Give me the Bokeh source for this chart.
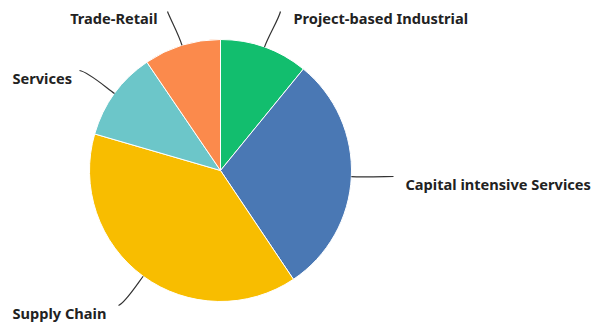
import math
from bokeh.plotting import figure
from bokeh.models import ColumnDataSource
from bokeh.core.properties import value
from bokeh.embed import file_html
from bokeh.resources import INLINE

# ---- data ----
categories = ["Project-based Industrial", "Capital intensive Services", "Supply Chain", "Services", "Trade-Retail"]
shares = [10.9, 29.7, 38.9, 11.0, 9.5]
colors = ["#12BE6E", "#4A78B4", "#F8BD00", "#6CC6C9", "#FB8A4C"]

# ---- layout (pixel coords, y downward from top of 596x324 canvas) ----
W, H = 596, 324
cx, cy, R = 220, 170, 131
label_pos = [(293, 17, "left"), (405, 183, "left"), (12, 312, "left"), (12, 77, "left"), (157, 17, "right")]
leader_end = [(280, 11), (393, 176), (118, 305), (79, 70), (167, 11)]
leader_bend = [(-2, 8), (-6, 0), (6, -2), (8, 1), (3, 8)]

p = figure(width=W, height=H, x_range=(0, W), y_range=(0, H),
           x_axis_type=None, y_axis_type=None, toolbar_location=None,
           output_backend="svg", min_border=0, outline_line_color=None)
p.grid.visible = False
p.background_fill_color = "white"
p.border_fill_color = "white"

total = sum(shares)
starts, ends, mids = [], [], []
acc = 0.0
for s in shares:
    a0 = acc / total * 2 * math.pi
    acc += s
    a1 = acc / total * 2 * math.pi
    starts.append(math.pi / 2 - a0)
    ends.append(math.pi / 2 - a1)
    mids.append((a0 + a1) / 2)

src = ColumnDataSource(dict(start=starts, end=ends, color=colors, cat=categories))
p.wedge(x=cx, y=H - cy, radius=R, start_angle="start", end_angle="end", direction="clock",
        fill_color="color", line_color="white", line_width=1, source=src)

# leader lines
x0s, y0s, x1s, y1s, c0x, c0y, c1x, c1y = [], [], [], [], [], [], [], []
for m, (ex, ey), (bx, by) in zip(mids, leader_end, leader_bend):
    sx = cx + R * math.sin(m)
    sy = H - (cy - R * math.cos(m))
    x0s.append(sx); y0s.append(sy)
    c0x.append(cx + (R + 12) * math.sin(m)); c0y.append(H - (cy - (R + 12) * math.cos(m)))
    x1s.append(ex); y1s.append(H - ey)
    c1x.append(ex + bx); c1y.append(H - (ey + by))
p.bezier(x0=x0s, y0=y0s, x1=x1s, y1=y1s, cx0=c0x, cy0=c0y, cx1=c1x, cy1=c1y,
         line_color="#333333", line_width=1.2)

for cat, (lx, ly, al) in zip(categories, label_pos):
    p.text(x=[lx], y=[H - ly], text=[cat], text_align=al, text_baseline="middle",
           text_font=value("Noto Sans"), text_font_style="bold", text_font_size="14.6px",
           text_color="#222222")

open("out.html", "w").write(file_html(p, INLINE))
